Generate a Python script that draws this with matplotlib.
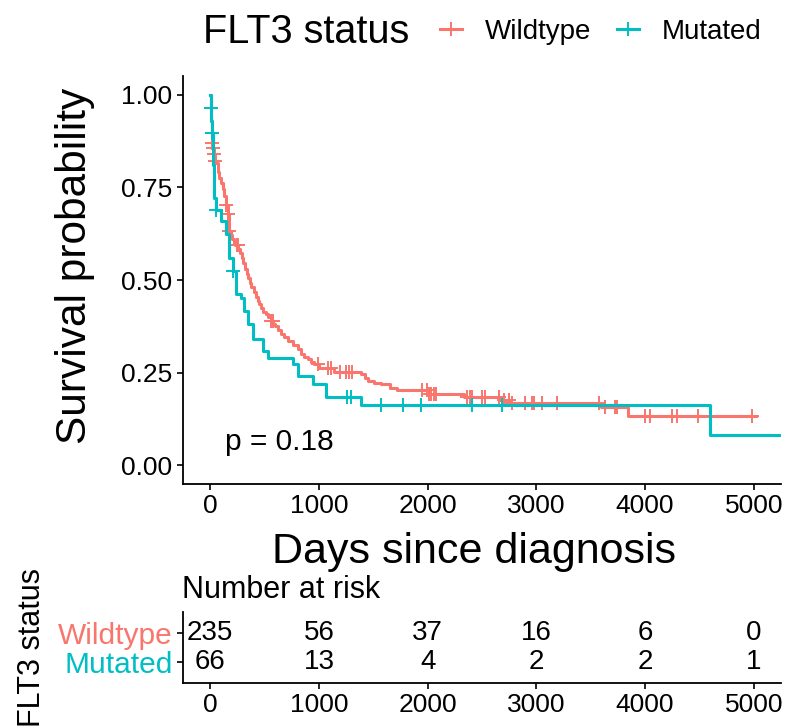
import numpy as np
import matplotlib.pyplot as plt
from matplotlib.lines import Line2D

plt.rcParams['font.family'] = ['Liberation Sans', 'DejaVu Sans']

# survival curves (days, probability)
wt_time = [0, 4, 10, 14, 20, 26, 32, 40, 55, 70, 85, 101, 115, 126, 145, 160, 177, 190, 200, 215,
           230, 260, 275, 290, 305, 320, 335, 346, 365, 380, 400, 420, 440, 452, 470, 490, 510, 530,
           560, 580, 600, 625, 651, 680, 713, 760, 804, 835, 865, 896, 930, 957, 1000, 1138, 1385,
           1420, 1447, 1510, 1569, 1650, 1722, 2000, 2330, 2670, 2760, 3590, 3846, 5024]
wt_surv = [1.0, 0.965, 0.93, 0.896, 0.869, 0.856, 0.84, 0.822, 0.815, 0.79, 0.775, 0.762, 0.745,
           0.726, 0.703, 0.678, 0.632, 0.62, 0.61, 0.60, 0.595, 0.583, 0.572, 0.56, 0.545, 0.53,
           0.515, 0.505, 0.492, 0.48, 0.468, 0.455, 0.443, 0.435, 0.425, 0.415, 0.407, 0.40, 0.39,
           0.382, 0.375, 0.365, 0.355, 0.345, 0.336, 0.325, 0.315, 0.30, 0.293, 0.287, 0.28, 0.273,
           0.262, 0.251, 0.246, 0.237, 0.228, 0.223, 0.219, 0.21, 0.203, 0.193, 0.184, 0.177,
           0.168, 0.157, 0.134, 0.134]
wt_cens = [4, 14, 20, 26, 32, 40, 145, 160, 177, 243, 254, 560, 575, 994, 1080, 1110, 1196, 1248,
           1278, 1300, 1951, 1997, 2012, 2028, 2058, 2073, 2364, 2394, 2410, 2502, 2532, 2654, 2700,
           2746, 2777, 2899, 2960, 2982, 3052, 3190, 3572, 3633, 3725, 3740, 4000, 4046, 4245, 4291,
           4489, 4985]

mut_time = [0, 5, 12, 18, 25, 34, 50, 101, 147, 177, 208, 239, 284, 315, 346, 392, 483, 529, 758,
            805, 942, 1064, 1385, 4596, 5250]
mut_surv = [1.0, 0.965, 0.93, 0.896, 0.81, 0.72, 0.69, 0.659, 0.623, 0.56, 0.524, 0.462, 0.452,
            0.417, 0.381, 0.341, 0.309, 0.289, 0.273, 0.242, 0.22, 0.184, 0.164, 0.082, 0.082]
mut_cens = [5, 18, 55, 208, 1254, 1294, 1569, 1777, 1942, 2410, 2685]

# number at risk table
risk_times = [0, 1000, 2000, 3000, 4000, 5000]
wt_risk = [235, 56, 37, 16, 6, 0]
mut_risk = [66, 13, 4, 2, 2, 1]

groups = ['Wildtype', 'Mutated']
colors = ['#F8766D', '#00BFC4']


def surv_at(times, surv, pts):
    idx = np.searchsorted(times, pts, side='right') - 1
    return np.array(surv)[idx]


W, H = 787, 728
fig = plt.figure(figsize=(W / 100, H / 100), dpi=100)
ax = fig.add_axes([183 / W, 1 - 484 / H, 598 / W, 408 / H])
ax2 = fig.add_axes([183 / W, 1 - 683 / H, 598 / W, 71 / H])

curves = [(wt_time, wt_surv, wt_cens), (mut_time, mut_surv, mut_cens)]
for (t, s, c), col in zip(curves, colors):
    ax.step(t, s, where='post', color=col, lw=2.2)
    ax.plot(c, surv_at(t, s, c), '+', color=col, ms=10, mew=1.4)

ax.set_xlim(-250, 5250)
ax.set_ylim(-0.05, 1.05)
ax.set_xticks(risk_times)
ax.set_yticks([0, 0.25, 0.5, 0.75, 1.0])
ax.set_yticklabels(['0.00', '0.25', '0.50', '0.75', '1.00'])
ax.text(140, 0.062, 'p = 0.18', fontsize=21.5, va='center')
ax.set_xlabel('Days since diagnosis', fontsize=31)
ax.set_ylabel('Survival probability', fontsize=30.5)
ax.xaxis.set_label_coords(0.4866, -0.117)
ax.yaxis.set_label_coords(-0.147, 0.534)

for a in (ax, ax2):
    for sp in ('top', 'right'):
        a.spines[sp].set_visible(False)
    for sp in ('left', 'bottom'):
        a.spines[sp].set_linewidth(1.3)
    a.tick_params(labelsize=19, length=4, width=1.2, colors='black')

# risk table
for y, vals in zip([2, 1], [wt_risk, mut_risk]):
    for x, v in zip(risk_times, vals):
        ax2.text(x, y, str(v), ha='center', va='center', fontsize=20)
ax2.set_xlim(-250, 5250)
ax2.set_ylim(0.28, 2.72)
ax2.set_xticks(risk_times)
ax2.set_yticks([2, 1])
ax2.set_yticklabels(groups, fontsize=21.5)
for lab, col in zip(ax2.get_yticklabels(), colors):
    lab.set_color(col)
ax2.set_ylabel('FLT3 status', fontsize=22)
ax2.yaxis.set_label_coords(-0.228, 0.5)
fig.text(182 / W, 1 - 590 / H, 'Number at risk', fontsize=22, va='center')

# legend on top
fig.text(203 / W, 1 - 32 / H, 'FLT3 status', fontsize=28.5, va='center')
handles = [Line2D([], [], color=c, lw=2.2, marker='+', ms=10, mew=1.4) for c in colors]
fig.legend(handles, groups, ncol=2, loc='center left', bbox_to_anchor=(440 / W, 1 - 32 / H),
           frameon=False, fontsize=20, handlelength=0.8, handletextpad=0.8, columnspacing=0.95,
           borderpad=0, borderaxespad=0)

fig.savefig('out.png', dpi=100)
